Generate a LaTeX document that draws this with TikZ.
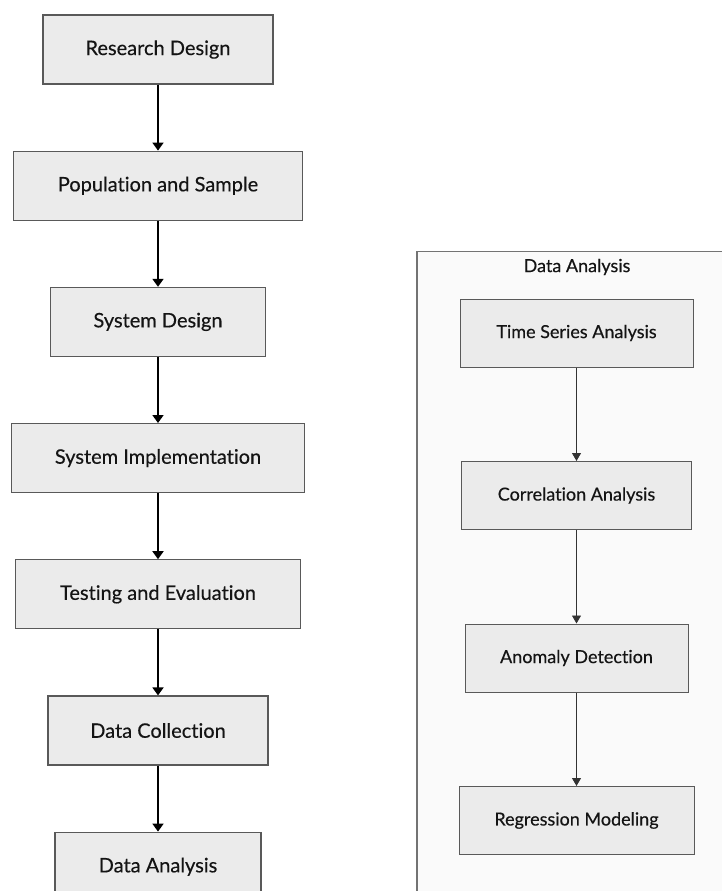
\documentclass[tikz,border=0pt]{standalone}
\usepackage{fontspec}
\setmainfont{Lato}[Ligatures=NoCommon]
\newfontfamily\boxfont{Lato}[Ligatures=NoCommon, FakeBold=0.35]
\usetikzlibrary{positioning,arrows.meta}

\tikzset{
  stage/.style={draw=black!65, line width=1.2pt, fill=black!8, text=black!92,
    minimum height=69pt, inner sep=0pt, font=\boxfont\fontsize{20}{24}\selectfont},
  substage/.style={stage, minimum height=68pt, line width=1pt, font=\boxfont\fontsize{18}{22}\selectfont},
  flow/.style={line width=1.8pt, -{Triangle[length=8pt,width=11pt]}},
  subflow/.style={line width=0.9pt, draw=black!80, -{Triangle[length=8pt,width=9pt]}}
}

\begin{document}
\begin{tikzpicture}[x=1pt, y=-1pt, node distance=66pt]
  \clip (0,0) rectangle (722,891);
  \fill[white] (0,0) rectangle (722,891);

  % main steps
  \node[stage, minimum width=230pt] (rd) at (158,49.5) {Research Design};
  \node[stage, minimum width=289pt, below=of rd] (pas) {Population and Sample};
  \node[stage, minimum width=215pt, below=of pas] (sd) {System Design};
  \node[stage, minimum width=293pt, below=of sd] (si) {System Implementation};
  \node[stage, minimum width=285pt, below=of si] (te) {Testing and Evaluation};
  \node[stage, minimum width=220pt, below=of te] (dc) {Data Collection};
  \node[stage, minimum width=206pt, below=of dc] (da) {Data Analysis};

  \draw[flow] (rd) -- (pas);
  \draw[flow] (pas) -- (sd);
  \draw[flow] (sd) -- (si);
  \draw[flow] (si) -- (te);
  \draw[flow] (te) -- (dc);
  \draw[flow] (dc) -- (da);

  % data analysis panel
  \draw[draw=black!55, line width=1.1pt, fill=black!2] (417,251.5) rectangle (760,930);
  \node[text=black!92, font=\boxfont\fontsize{18}{22}\selectfont] (datitle) at (577,267) {Data Analysis};

  \begin{scope}[node distance=93.5pt]
    \node[substage, minimum width=233pt] (tsa) at (576.5,333) {Time Series Analysis};
    \node[substage, minimum width=230pt, below=of tsa] (ca) {Correlation Analysis};
    \node[substage, minimum width=223pt, below=of ca] (ad) {Anomaly Detection};
    \node[substage, minimum width=235pt, below=of ad] (rm) {Regression Modeling};
  \end{scope}

  \draw[subflow] (tsa) -- (ca);
  \draw[subflow] (ca) -- (ad);
  \draw[subflow] (ad) -- (rm);
\end{tikzpicture}
\end{document}
